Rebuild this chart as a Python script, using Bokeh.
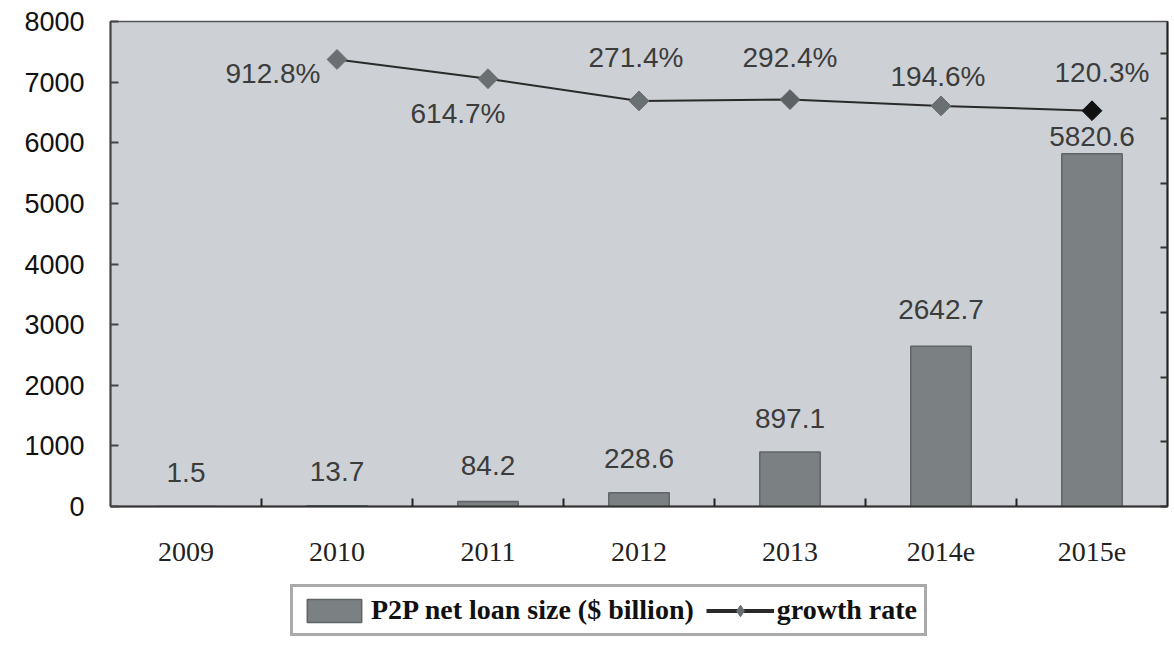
import numpy as np
from bokeh.plotting import figure
from bokeh.layouts import column
from bokeh.models import (ColumnDataSource, Range1d, LinearAxis, FixedTicker,
                          SingleIntervalTicker, Legend, LegendItem)
from bokeh.core.properties import value
from bokeh.embed import file_html
from bokeh.resources import INLINE

# ---------------- data ----------------
categories = ["2009", "2010", "2011", "2012", "2013", "2014e", "2015e"]
loan_size = [1.5, 13.7, 84.2, 228.6, 897.1, 2642.7, 5820.6]
growth_categories = ["2010", "2011", "2012", "2013", "2014e", "2015e"]
growth_rate = [912.8, 614.7, 271.4, 292.4, 194.6, 120.3]
y_ticks = [0, 1000, 2000, 3000, 4000, 5000, 6000, 7000, 8000]
legend_labels = ["P2P net loan size ($ billion)", "growth rate"]

# ---------------- style (label nudges in screen px) ----------------
bar_label_dy = [-34, -34, -36, -34, -34, -37, -17]
growth_label_dx = [-64, -30, -3, 0, -3, 10]
growth_label_dy = [14, 35, -43, -42, -29, -38]
marker_colors = ["#6a7072", "#6a7072", "#6a7072", "#5d6365", "#6a7072", "#111111"]
BAR_FILL, BAR_LINE = "#7b8083", "#5f6467"
LINE_COLOR, MARK_COLOR = "#2a2a2a", "#6a7072"

pos = {c: i + 0.5 for i, c in enumerate(categories)}
bar_x = [pos[c] for c in categories]
growth_x = [pos[c] for c in growth_categories]

bar_src = ColumnDataSource(dict(x=bar_x, top=loan_size,
                                label=[f"{v}" for v in loan_size],
                                dy=bar_label_dy))
gr_src = ColumnDataSource(dict(x=growth_x, y=growth_rate,
                               label=[f"{g}%" for g in growth_rate],
                               dx=growth_label_dx, dy=growth_label_dy,
                               color=marker_colors))

p = figure(frame_width=1057, frame_height=485,
           x_range=Range1d(0, len(categories)), y_range=Range1d(0, 8000),
           output_backend="svg", toolbar_location=None,
           min_border_left=110, min_border_top=21, min_border_right=7,
           min_border_bottom=74)
p.background_fill_color = "#cdd1d5"
p.border_fill_color = "white"
p.outline_line_color = "#555555"
p.outline_line_width = 1.5
p.grid.visible = False

p.extra_y_ranges = {"growth": Range1d(-6000, 1500)}

# bars
p.vbar(x="x", top="top", bottom=0, width=0.4, source=bar_src,
       fill_color=BAR_FILL, line_color=BAR_LINE, line_width=1.5)
p.text(x="x", y="top", text="label", source=bar_src, y_offset="dy",
       text_align="center", text_baseline="middle",
       text_font=value("Liberation Sans"), text_font_size="28px",
       text_color="#3c3c3c")

# growth line
p.line(x="x", y="y", source=gr_src, y_range_name="growth",
       line_color=LINE_COLOR, line_width=2)
p.scatter(x="x", y="y", source=gr_src, y_range_name="growth",
          marker="square", angle=np.pi / 4, size=14,
          fill_color="color", line_color="color")
p.text(x="x", y="y", text="label", source=gr_src, y_range_name="growth",
       x_offset="dx", y_offset="dy",
       text_align="center", text_baseline="middle",
       text_font=value("Liberation Sans"), text_font_size="28px",
       text_color="#3c3c3c")

# axes
xa = p.xaxis[0]
xa.ticker = FixedTicker(ticks=bar_x, minor_ticks=list(range(1, len(categories))))
xa.major_label_overrides = {x: c for x, c in zip(bar_x, categories)}
xa.major_tick_in = 0
xa.major_tick_out = 0
xa.minor_tick_in = 8
xa.minor_tick_out = 0
xa.minor_tick_line_color = "#222222"
xa.minor_tick_line_width = 2
xa.axis_line_color = "#333333"
xa.axis_line_width = 2
xa.major_label_standoff = 36
xa.major_label_text_font = "Liberation Serif"
xa.major_label_text_font_size = "28px"
xa.major_label_text_color = "#222222"

ya = p.yaxis[0]
ya.ticker = FixedTicker(ticks=y_ticks)
ya.major_tick_in = 8
ya.major_tick_out = 0
ya.minor_tick_in = 0
ya.minor_tick_out = 0
ya.major_tick_line_color = "#444444"
ya.major_tick_line_width = 2
ya.axis_line_color = "#444444"
ya.axis_line_width = 2
ya.major_label_standoff = 26
ya.major_label_text_font = "Liberation Sans"
ya.major_label_text_font_size = "27px"
ya.major_label_text_color = "#111111"

ra = LinearAxis(y_range_name="growth", ticker=SingleIntervalTicker(interval=1000))
ra.major_tick_in = 7
ra.major_tick_out = 0
ra.minor_tick_in = 0
ra.minor_tick_out = 0
ra.major_tick_line_color = "#333333"
ra.major_tick_line_width = 2
ra.axis_line_color = "#222222"
ra.axis_line_width = 2
ra.major_label_text_font_size = "1px"
ra.major_label_text_alpha = 0
ra.major_label_standoff = 0
p.add_layout(ra, "right")

# ---------------- legend strip (separate figure below) ----------------
LEG_H = 65
p2 = figure(frame_width=1057, frame_height=LEG_H,
            x_range=Range1d(0, 1057), y_range=Range1d(0, LEG_H),
            output_backend="svg", toolbar_location=None,
            x_axis_location=None, y_axis_location=None,
            min_border_left=110, min_border_right=7,
            min_border_top=0, min_border_bottom=0)
p2.grid.visible = False
p2.outline_line_color = None
p2.background_fill_color = "white"
p2.border_fill_color = "white"

# legend-only renderers: a single NaN point so nothing is drawn in the strip
dummy = ColumnDataSource(dict(x=[np.nan], y=[np.nan], top=[np.nan]))
lb = p2.vbar(x="x", top="top", width=1, source=dummy,
             fill_color=BAR_FILL, line_color=BAR_LINE, line_width=1.5)
ll = p2.line(x="x", y="y", source=dummy, line_color=LINE_COLOR, line_width=4)
lm = p2.scatter(x="x", y="y", source=dummy, marker="diamond",
                size=24, fill_color=MARK_COLOR, line_color=MARK_COLOR)

legend = Legend(items=[
    LegendItem(label=legend_labels[0], renderers=[lb]),
    LegendItem(label=legend_labels[1], renderers=[ll, lm]),
], orientation="horizontal", location=(180, 9))
legend.label_text_font = "Liberation Serif"
legend.label_text_font_style = "bold"
legend.label_text_font_size = "28px"
legend.label_text_color = "#111111"
legend.glyph_width = 68
legend.glyph_height = 29
legend.label_standoff = 3
legend.spacing = 12
legend.padding = 7
legend.margin = 0
legend.border_line_color = "#555555"
legend.border_line_width = 3
legend.background_fill_color = "white"
p2.add_layout(legend, "center")

layout = column(p, p2, spacing=0)
open("out.html", "w").write(file_html(layout, INLINE))
